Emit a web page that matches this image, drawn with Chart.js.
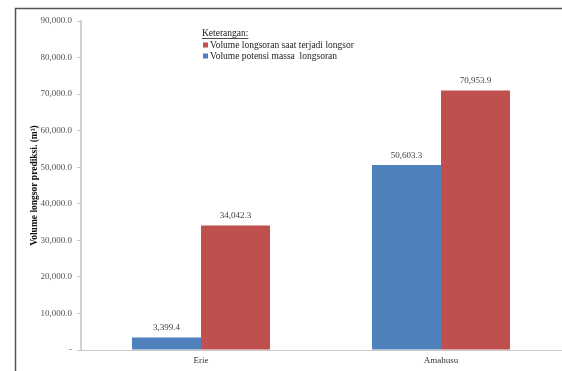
<!DOCTYPE html>
<html>
<head>
<meta charset="utf-8">
<script src="https://cdn.jsdelivr.net/npm/chart.js@4/dist/chart.umd.min.js"></script>
<style>
  body { margin: 0; background: #fff; }
  #wrap { position: relative; width: 562px; height: 371px; }
</style>
</head>
<body>
<div id="wrap"><canvas id="chart" width="562" height="371"></canvas></div>
<script>
const categories = ['Erie', 'Amahusu'];
const potensi = [3399.4, 50603.3];     // Volume potensi massa longsoran
const terjadi = [34042.3, 70953.9];    // Volume longsoran saat terjadi longsor
const yTicks = [0, 10000, 20000, 30000, 40000, 50000, 60000, 70000, 80000, 90000];

const serif = '"Liberation Serif", "Times New Roman", serif';

function fmt(v) {
  if (v === 0) return '-';
  return v.toLocaleString('en-US', { minimumFractionDigits: 1, maximumFractionDigits: 1 });
}

// outer frame (left + top line)
const framePlugin = {
  id: 'frame',
  beforeDraw(chart) {
    const ctx = chart.ctx;
    ctx.save();
    ctx.strokeStyle = '#555';
    ctx.lineWidth = 1.5;
    ctx.beginPath();
    ctx.moveTo(15.5, 371);
    ctx.lineTo(15.5, 8.5);
    ctx.lineTo(562, 8.5);
    ctx.stroke();
    ctx.restore();
  }
};

// value labels above bars
const valueLabels = {
  id: 'valueLabels',
  afterDatasetsDraw(chart) {
    const ctx = chart.ctx;
    ctx.save();
    ctx.font = '9px ' + serif;
    ctx.fillStyle = '#404040';
    ctx.textAlign = 'center';
    ctx.textBaseline = 'bottom';
    chart.data.datasets.forEach((ds, i) => {
      chart.getDatasetMeta(i).data.forEach((bar, j) => {
        ctx.fillText(fmt(ds.data[j]), bar.x, bar.y - 5);
      });
    });
    ctx.restore();
  }
};

// legend box "Keterangan:"
const keterangan = {
  id: 'keterangan',
  afterDraw(chart) {
    const ctx = chart.ctx;
    const x = 202, y = 33;
    ctx.save();
    ctx.font = '9.5px ' + serif;
    ctx.fillStyle = '#222';
    ctx.textBaseline = 'middle';
    ctx.fillText('Keterangan:', x, y);
    const w = ctx.measureText('Keterangan:').width;
    ctx.fillRect(x, y + 5, w, 0.8);
    // red first, then blue (like the picture)
    const order = [1, 0];
    order.forEach((di, k) => {
      const ds = chart.data.datasets[di];
      const yy = y + 12 + k * 11;
      ctx.fillStyle = ds.backgroundColor;
      ctx.fillRect(x + 1, yy - 2.5, 5, 5);
      ctx.fillStyle = '#222';
      ctx.fillText(ds.label, x + 8, yy);
    });
    ctx.restore();
  }
};

new Chart(document.getElementById('chart'), {
  type: 'bar',
  data: {
    labels: categories,
    datasets: [
      { label: 'Volume potensi massa  longsoran', data: potensi, backgroundColor: '#4F81BD' },
      { label: 'Volume longsoran saat terjadi longsor', data: terjadi, backgroundColor: '#C0504D' }
    ]
  },
  options: {
    responsive: false,
    animation: false,
    layout: { padding: { top: 21, right: 1, left: 0, bottom: 0 } },
    plugins: { legend: { display: false }, tooltip: { enabled: false } },
    datasets: { bar: { barPercentage: 1, categoryPercentage: 0.575 } },
    scales: {
      x: {
        grid: { display: false, drawTicks: false },
        border: { display: true, color: '#c8c8c8', width: 1 },
        ticks: { color: '#333', font: { family: serif, size: 9 }, padding: 5 },
        afterFit(s) { s.height = 21; }
      },
      y: {
        min: 0, max: 90000,
        afterBuildTicks(s) { s.ticks = yTicks.map(v => ({ value: v })); },
        grid: { drawOnChartArea: false, drawTicks: true, tickLength: 4, color: '#c8c8c8' },
        border: { display: true, color: '#d0d0d0', width: 2 },
        ticks: { color: '#555', font: { family: serif, size: 9 }, padding: 5, callback: v => fmt(v) },
        title: {
          display: true,
          text: 'Volume longsor prediksi. (m\u00b3)',
          color: '#111',
          font: { family: serif, size: 9.5, weight: 'bold' },
          padding: { top: 29, bottom: 4 }
        },
        afterFit(s) { s.width = 81; }
      }
    }
  },
  plugins: [framePlugin, valueLabels, keterangan]
});
</script>
</body>
</html>
